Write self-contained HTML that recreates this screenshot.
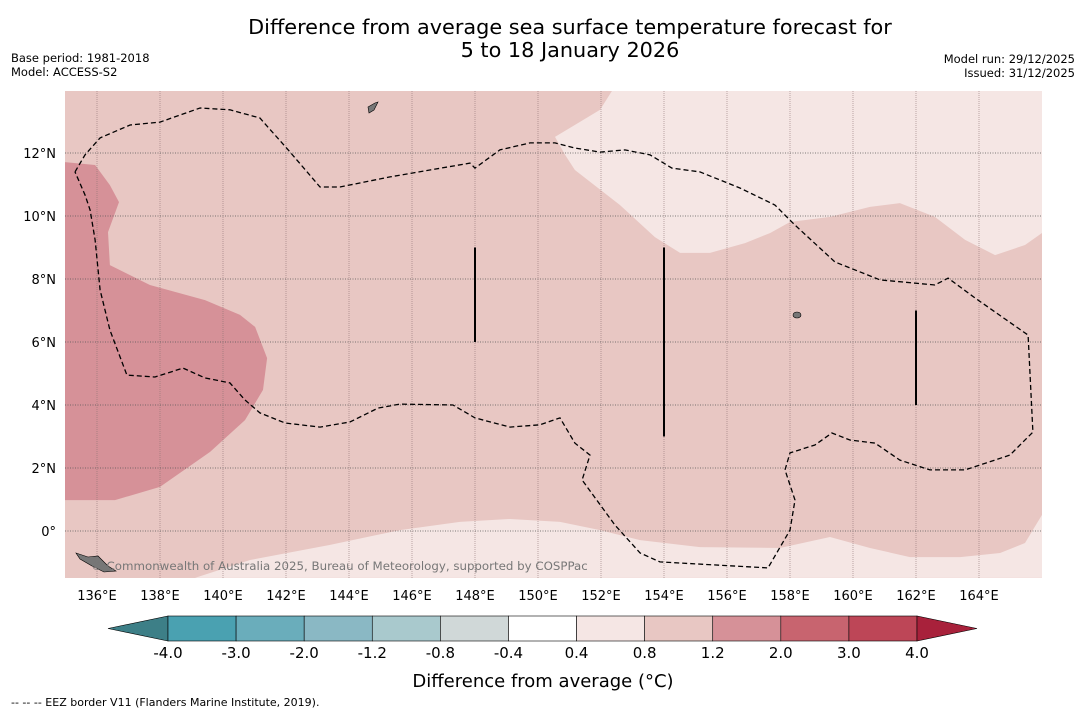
<!DOCTYPE html>
<html><head><meta charset="utf-8"><style>
body{margin:0;background:#fff;font-family:"DejaVu Sans","Liberation Sans",sans-serif;}
</style></head><body>
<svg id="c" width="1085" height="713" xmlns="http://www.w3.org/2000/svg" style="font-family:'DejaVu Sans','Liberation Sans',sans-serif">
<text x="570" y="34" text-anchor="middle" font-size="20.8">Difference from average sea surface temperature forecast for</text>
<text x="570" y="57" text-anchor="middle" font-size="20.8">5 to 18 January 2026</text>
<text x="11" y="62" font-size="11.5">Base period: 1981-2018</text>
<text x="11" y="76" font-size="11.5">Model: ACCESS-S2</text>
<text x="1075" y="63" font-size="11.5" text-anchor="end">Model run: 29/12/2025</text>
<text x="1075" y="77" font-size="11.5" text-anchor="end">Issued: 31/12/2025</text>
<defs><clipPath id="mc"><rect x="65" y="91" width="977" height="487"/></clipPath></defs>
<g id="map" clip-path="url(#mc)"><rect x="65" y="91" width="977" height="487" fill="#e8c7c3"/></g>
<g id="axes"></g>
<g id="cbar"></g>
<text x="543" y="687" text-anchor="middle" font-size="18">Difference from average (°C)</text>
<text x="11" y="706" font-size="11">--  --  -- EEZ border V11 (Flanders Marine Institute, 2019).</text>
</svg>
<script>
const NS="http://www.w3.org/2000/svg";
// Map extent and data
const lonTicks=[136,138,140,142,144,146,148,150,152,154,156,158,160,162,164];
const latTicks=[0,2,4,6,8,10,12];
const latLabels=["0°","2°N","4°N","6°N","8°N","10°N","12°N"];
const warmLon=[134.98,135.94,136.41,136.70,136.35,136.41,137.68,139.43,140.54,141.02,141.40,141.27,140.70,139.59,138.0,136.57,134.98];
const warmLat=[11.71,11.62,10.98,10.44,9.49,8.44,7.81,7.33,6.86,6.48,5.49,4.48,3.52,2.51,1.40,0.98,0.98];
const coolNLon=[150.54,151.97,152.35,166,166,165.46,164.51,163.56,162.6,161.49,160.54,159.27,158.0,157.37,156.57,155.46,154.51,153.71,152.6,151.17,150.86];
const coolNLat=[12.51,13.37,13.97,13.97,9.46,9.08,8.76,9.24,9.97,10.41,10.29,9.97,9.81,9.46,9.14,8.83,8.83,9.33,10.35,11.46,11.94];
const coolSLon=[139.11,140.86,143.4,145.62,147.52,149.11,150.70,151.97,153.24,155.14,157.68,159.27,160.54,161.81,163.4,164.67,165.46,166,166];
const coolSLat=[-1.49,-0.92,-0.44,0.03,0.29,0.38,0.29,0.03,-0.29,-0.51,-0.54,-0.19,-0.54,-0.83,-0.83,-0.70,-0.38,0.51,-1.49];
const eezLon=[135.30,135.62,136.10,137.05,138.0,139.27,140.22,141.17,142.13,143.08,143.71,145.30,147.84,148.0,148.79,149.75,150.54,151.17,151.97,152.76,153.56,154.25,155.14,156.41,157.52,158.16,159.43,160.86,162.60,163.02,163.87,165.56,165.71,164.98,163.56,162.44,161.49,160.70,159.90,159.33,158.79,158.0,157.84,158.16,158.0,157.30,153.87,153.24,152.44,151.40,151.65,151.17,150.70,150.06,149.11,148.0,147.30,145.62,144.92,144.03,143.08,141.97,141.17,140.70,140.22,139.43,138.73,137.84,136.95,136.41,136.10,135.94,135.78,135.62,135.30];
const eezLat=[11.40,11.94,12.48,12.89,12.98,13.43,13.37,13.11,12.03,10.92,10.92,11.24,11.68,11.52,12.10,12.32,12.32,12.16,12.03,12.10,11.94,11.52,11.40,10.89,10.35,9.71,8.54,7.97,7.81,8.03,7.40,6.22,3.14,2.41,1.94,1.94,2.25,2.79,2.89,3.11,2.73,2.48,1.94,0.98,0.03,-1.17,-0.98,-0.70,0.19,1.62,2.41,2.79,3.59,3.37,3.30,3.59,4.0,4.03,3.90,3.46,3.30,3.43,3.75,4.16,4.70,4.86,5.17,4.89,4.95,6.38,7.65,9.24,10.19,10.67,11.40];
const segLon=[148,154,162];
const segLat0=[6,3,4];
const segLat1=[9,9,7];
// Colorbar
const cbLabels=["-4.0","-3.0","-2.0","-1.2","-0.8","-0.4","0.4","0.8","1.2","2.0","3.0","4.0"];
const cbColors=["#4aa1b1","#6aadbb","#8ab8c4","#a9c9cd","#d0d8d8","#ffffff","#f5e6e4","#e8c7c3","#d69198","#c8646f","#bd4657"];

const X=lon=>97+(lon-136)*31.5;
const Y=lat=>531-lat*31.5;
const svg=document.getElementById('c');
const map=document.getElementById('map');
const axes=document.getElementById('axes');
const cb=document.getElementById('cbar');
function mk(t,a,p){const e=document.createElementNS(NS,t);for(const k in a)e.setAttribute(k,a[k]);p.appendChild(e);return e;}
function pts(lo,la){return lo.map((v,i)=>X(v).toFixed(1)+','+Y(la[i]).toFixed(1)).join(' ');}

let e=mk('polygon',{points:pts(warmLon,warmLat),fill:'#d69198'},map);


e=mk('polygon',{points:pts(coolNLon,coolNLat),fill:'#f5e6e4'},map);


e=mk('polygon',{points:pts(coolSLon,coolSLat),fill:'#f5e6e4'},map);



lonTicks.forEach(l=>{
  e=mk('line',{x1:X(l),x2:X(l),y1:91,y2:578,stroke:'#8a7070','stroke-width':0.8,'stroke-dasharray':'1,1','stroke-opacity':0.7},map);
  
  
  e=mk('text',{x:X(l),y:600,'text-anchor':'middle','font-size':13},axes);
  e.textContent=l+'°E';
  
  
});
latTicks.forEach((l,i)=>{
  e=mk('line',{x1:65,x2:1042,y1:Y(l),y2:Y(l),stroke:'#555','stroke-width':0.8,'stroke-dasharray':'1,1.5'},map);
  
  
  e=mk('text',{x:56,y:Y(l)+5,'text-anchor':'end','font-size':13},axes);
  e.textContent=latLabels[i];
  
  
});
e=mk('polyline',{points:pts(eezLon,eezLat),fill:'none',stroke:'#000','stroke-width':1.3,'stroke-dasharray':'5,3'},map);


segLon.forEach((l,i)=>{
  e=mk('line',{x1:X(l),x2:X(l),y1:Y(segLat0[i]),y2:Y(segLat1[i]),stroke:'#000','stroke-width':2},map);
  
  
});
// islands
e=mk('path',{d:'M76,553 L88,557 L98,556 L108,566 L116,571 L104,572 L92,566 L80,559Z',fill:'#777',stroke:'#000','stroke-width':0.6},map);


e=mk('path',{d:'M368,107 L375,103 L378,102 L374,110 L369,113Z',fill:'#777',stroke:'#000','stroke-width':0.6},map);


e=mk('ellipse',{cx:797,cy:315,rx:4,ry:3,fill:'#777',stroke:'#000','stroke-width':0.6},map);


e=mk('text',{x:91,y:570,'font-size':11.8,fill:'#777'},map);
e.textContent='© Commonwealth of Australia 2025, Bureau of Meteorology, supported by COSPPac';



// colorbar
const cx0=168,cw=(917-168)/cbColors.length,cy=616,ch=25;
e=mk('polygon',{points:`108,${cy+ch/2} ${cx0},${cy} ${cx0},${cy+ch}`,fill:'#3d7f87',stroke:'#000','stroke-width':0.6},cb);


cbColors.forEach((c,i)=>{
  e=mk('rect',{x:cx0+i*cw,y:cy,width:cw,height:ch,fill:c,stroke:'#000','stroke-width':0.6},cb);
  
  
});
e=mk('polygon',{points:`977,${cy+ch/2} 917,${cy} 917,${cy+ch}`,fill:'#a8213b',stroke:'#000','stroke-width':0.6},cb);


cbLabels.forEach((t,i)=>{
  e=mk('text',{x:cx0+i*cw,y:658,'text-anchor':'middle','font-size':15},cb);
  e.textContent=t;
  
  
});
</script>
</body></html>
